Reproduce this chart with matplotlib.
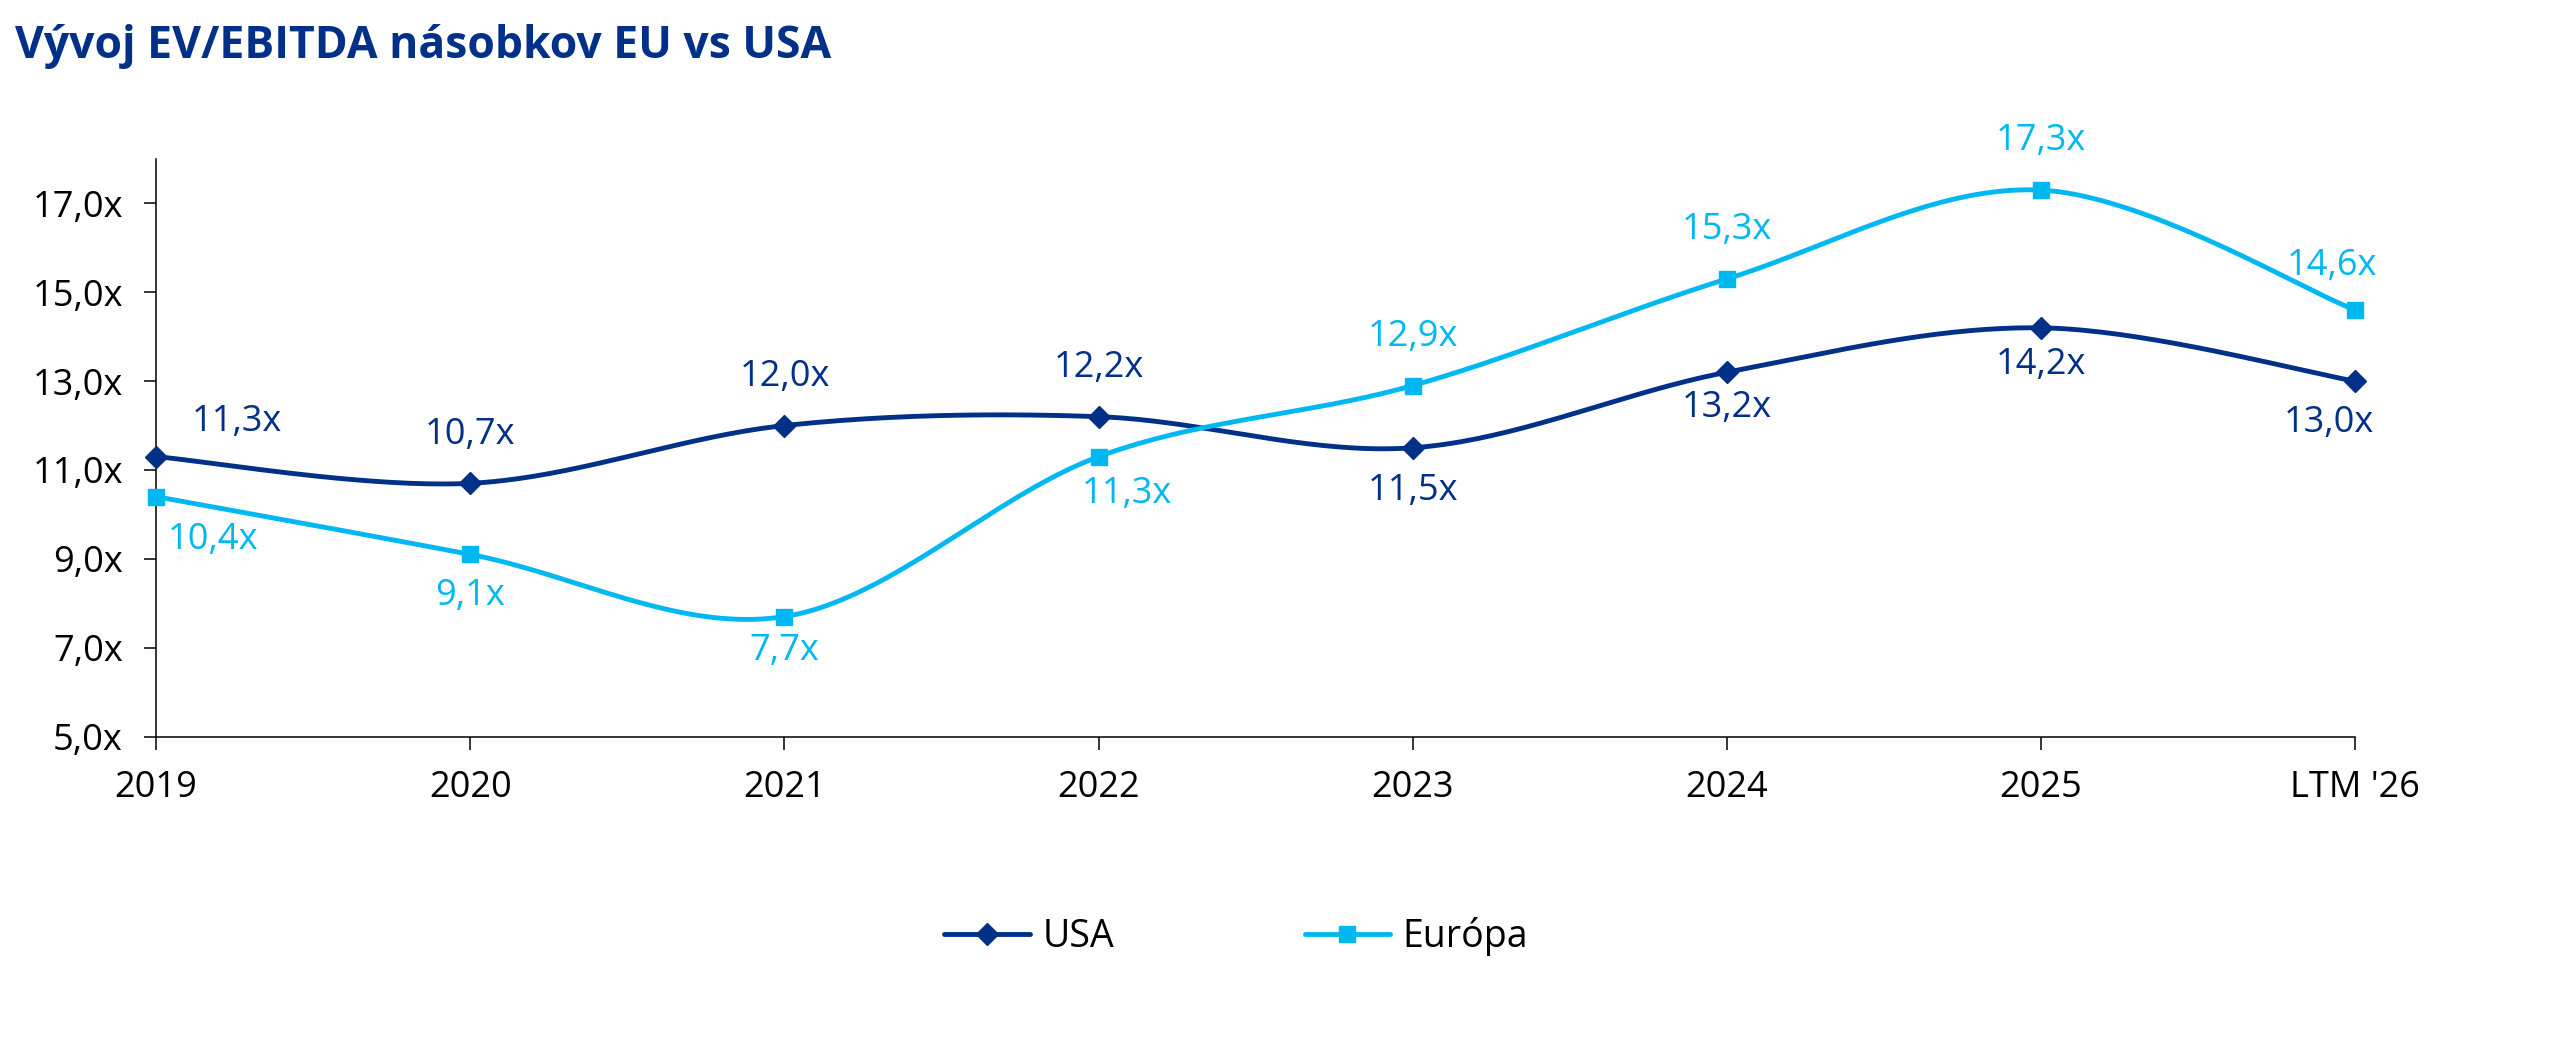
import numpy as np
import matplotlib
matplotlib.use("Agg")
import matplotlib.pyplot as plt

# data
roky = ["2019", "2020", "2021", "2022", "2023", "2024", "2025", "LTM '26"]
usa = [11.3, 10.7, 12.0, 12.2, 11.5, 13.2, 14.2, 13.0]
europa = [10.4, 9.1, 7.7, 11.3, 12.9, 15.3, 17.3, 14.6]

# label offsets (points)
off_usa = [(58, 25), (0, 35), (0, 35), (0, 35), (0, -31), (0, -26), (0, -27), (-19, -30)]
off_eu = [(41, -31), (0, -30), (0, -25), (20, -27), (0, 35), (0, 35), (0, 35), (-17, 32)]

c_usa = "#003087"
c_eu = "#00B8F1"

plt.rcParams['font.family'] = ['Open Sans', 'DejaVu Sans']


# Excel-like smooth line (Catmull-Rom -> Bezier)
def hladka_krivka(x, y, n=40):
    x = np.asarray(x, float)
    y = np.asarray(y, float)
    px = np.concatenate([[x[0]], x, [x[-1]]])
    py = np.concatenate([[y[0]], y, [y[-1]]])
    xs, ys = [], []
    t = np.linspace(0, 1, n)
    for i in range(1, len(px) - 2):
        p0 = np.array([px[i], py[i]])
        p3 = np.array([px[i + 1], py[i + 1]])
        p1 = p0 + (p3 - np.array([px[i - 1], py[i - 1]])) / 6
        p2 = p3 - (np.array([px[i + 2], py[i + 2]]) - p0) / 6
        b = ((1 - t) ** 3)[:, None] * p0 + (3 * (1 - t) ** 2 * t)[:, None] * p1 \
            + (3 * (1 - t) * t ** 2)[:, None] * p2 + (t ** 3)[:, None] * p3
        xs.append(b[:, 0])
        ys.append(b[:, 1])
    return np.concatenate(xs), np.concatenate(ys)


fig = plt.figure(figsize=(25.72, 10.44), dpi=100)
ax = fig.add_axes([0.0607, 0.2945, 0.855, 0.5532])

x = np.arange(len(roky))

for vals, farba, mk, ms, offs, meno in [(usa, c_usa, 'D', 11, off_usa, 'USA'),
                                        (europa, c_eu, 's', 11.5, off_eu, 'Európa')]:
    sx, sy = hladka_krivka(x, vals)
    ax.plot(sx, sy, color=farba, lw=3.5, solid_capstyle='round', zorder=2, clip_on=False)
    ax.plot(x, vals, linestyle='none', marker=mk, ms=ms, color=farba, zorder=3, clip_on=False)
    ax.plot([], [], color=farba, lw=3.5, marker=mk, ms=ms, solid_capstyle='round', label=meno)
    for xi, v, o in zip(x, vals, offs):
        ax.annotate(f"{v:.1f}x".replace('.', ','), (xi, v), xytext=o,
                    textcoords='offset points', ha='center', va='center',
                    fontsize=26, color=farba)

ax.set_xlim(0, len(roky) - 1)
ax.set_ylim(5, 18)
ax.set_yticks(np.arange(5, 18, 2))
ax.set_yticklabels([f"{v:.1f}x".replace('.', ',') for v in np.arange(5, 18, 2)])
ax.set_xticks(x)
ax.set_xticklabels(roky)
ax.tick_params(labelsize=26, length=9, width=1.1, pad=15, colors='black')
for s in ['top', 'right']:
    ax.spines[s].set_visible(False)
for s in ['left', 'bottom']:
    ax.spines[s].set_linewidth(1.1)

fig.text(0.006, 0.955, "Vývoj EV/EBITDA násobkov EU vs USA", fontsize=32,
         fontweight='bold', color=c_usa, va='center', ha='left')

fig.legend(loc='center', bbox_to_anchor=(0.4807, 0.1025), ncol=2, frameon=False,
           fontsize=27, handlelength=2.27, handletextpad=0.35, columnspacing=5.07)

fig.savefig("out.png", dpi=100)
